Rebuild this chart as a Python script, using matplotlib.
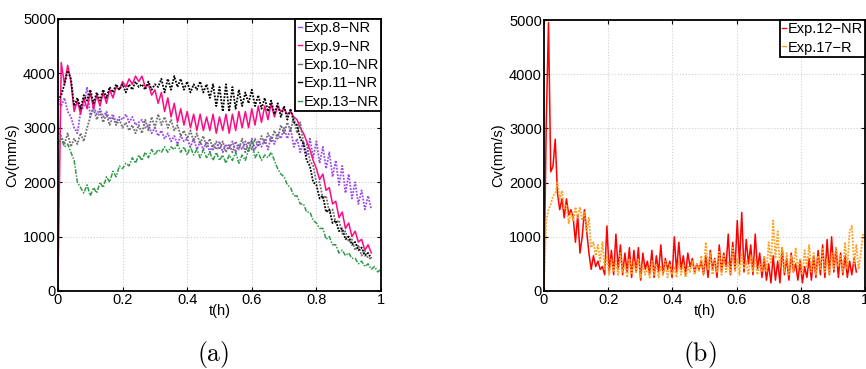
import numpy as np
import matplotlib
matplotlib.use("Agg")
import matplotlib.pyplot as plt

plt.rcParams['font.family'] = ['Liberation Sans', 'DejaVu Sans']
plt.rcParams['mathtext.fontset'] = 'cm'

# ---------------- data panel (a) : sampled every 0.01 h ----------------
dt_a = 0.01
exp8 = [3500, 3400, 3550, 3300, 3200, 3000, 2900, 3300, 3400, 3750,
        3200, 3400, 3250, 3350, 3200, 3300, 3150, 3250, 3100, 3200,
        3150, 3250, 3100, 3200, 3050, 3100, 3150, 3000, 3050, 2900,
        3000, 2850, 2950, 2800, 2900, 2750, 2850, 2700, 2850, 2750,
        2800, 2650, 2800, 2600, 2750, 2600, 2750, 2550, 2700, 2600,
        2750, 2550, 2700, 2600, 2750, 2550, 2700, 2600, 2750, 2550,
        2800, 2600, 2750, 2650, 2800, 2600, 2850, 2700, 2900, 2800,
        3000, 2800, 3000, 2650, 2800, 2550, 2750, 2500, 2800, 2450,
        2750, 2350, 2650, 2250, 2550, 2100, 2400, 1950, 2300, 1800,
        2150, 1700, 2000, 1600, 1850, 1500, 1750, 1500]
exp9 = [200, 4200, 3800, 4150, 3850, 3300, 3500, 3250, 3550, 3350,
        3650, 3350, 3600, 3400, 3650, 3450, 3700, 3550, 3750, 3700,
        3850, 3750, 3900, 3800, 3950, 3850, 3950, 3750, 3800, 3600,
        3700, 3450, 3650, 3300, 3550, 3200, 3450, 3100, 3350, 3050,
        3300, 3000, 3250, 2950, 3250, 2950, 3200, 2950, 3250, 2900,
        3200, 2950, 3250, 2900, 3250, 2950, 3300, 3000, 3300, 3000,
        3350, 3050, 3400, 3100, 3400, 3150, 3450, 3200, 3400, 3300,
        3350, 3250, 3300, 3200, 3150, 3000, 2900, 2750, 2600, 2400,
        2250, 2050, 2150, 1850, 1900, 1600, 1650, 1350, 1450, 1150,
        1250, 1000, 1100, 900, 950, 750, 850, 700]
exp10 = [2900, 2850, 2700, 2900, 2650, 2800, 2700, 2900, 2750, 3000,
         3200, 3350, 3150, 3300, 3100, 3250, 3050, 3200, 3050, 3150,
         3000, 3100, 2950, 3050, 2900, 3050, 2900, 3150, 2950, 3200,
         3000, 3250, 3050, 3200, 3000, 3150, 2950, 3050, 2850, 2950,
         2800, 2950, 2750, 2900, 2700, 2850, 2650, 2800, 2600, 2750,
         2600, 2750, 2550, 2700, 2550, 2750, 2600, 2800, 2550, 2750,
         2600, 2800, 2650, 2850, 2700, 2900, 2750, 2950, 2800, 3050,
         2900, 3100, 2950, 3200, 2900, 3100, 2700, 2700, 2400, 2300,
         2000, 2000, 1700, 1750, 1450, 1500, 1250, 1300, 1050, 1100,
         900, 950, 750, 850, 650, 750, 600, 600]
exp11 = [3500, 3600, 3800, 4050, 3900, 3400, 3550, 3350, 3600, 3500,
         3700, 3450, 3650, 3500, 3700, 3550, 3750, 3650, 3800, 3700,
         3800, 3650, 3800, 3700, 3850, 3750, 3800, 3700, 3850, 3700,
         3800, 3750, 3900, 3650, 3900, 3700, 3950, 3750, 3900, 3700,
         3850, 3650, 3800, 3700, 3850, 3650, 3800, 3550, 3800, 3400,
         3750, 3300, 3800, 3300, 3750, 3350, 3700, 3400, 3650, 3450,
         3700, 3400, 3600, 3350, 3550, 3300, 3500, 3250, 3450, 3200,
         3400, 3150, 3350, 3100, 3050, 2800, 2700, 2400, 2300, 2000,
         1950, 1700, 1750, 1450, 1500, 1250, 1300, 1100, 1150, 950,
         1000, 850, 900, 750, 800, 650, 700, 600]
exp13 = [2700, 2800, 2650, 2700, 2550, 2400, 2000, 1900, 1800, 1950,
         1750, 1900, 1800, 2000, 1900, 2100, 2000, 2200, 2100, 2300,
         2250, 2350, 2300, 2450, 2350, 2500, 2400, 2550, 2450, 2600,
         2500, 2600, 2550, 2650, 2550, 2650, 2600, 2700, 2550, 2650,
         2500, 2650, 2500, 2600, 2450, 2600, 2450, 2550, 2400, 2550,
         2400, 2500, 2350, 2500, 2400, 2550, 2350, 2500, 2400, 2600,
         2750, 2450, 2550, 2400, 2500, 2450, 2550, 2400, 2250, 2150,
         2100, 1950, 1900, 1750, 1750, 1600, 1600, 1450, 1450, 1300,
         1250, 1150, 1150, 950, 1000, 850, 850, 700, 750, 650,
         700, 600, 600, 500, 550, 450, 500, 400, 450, 350, 400]

# ---------------- data panel (b) : sampled every 0.007 h ----------------
dt_b = 0.007
exp12 = [100, 3100, 4950, 2200, 2300, 2800, 1800, 1500, 1700, 1350,
         1700, 1400, 1500, 1350, 900, 1400, 700, 1000, 1500, 1100,
         700, 400, 650, 450, 550, 400, 450, 300, 1200, 350,
         750, 300, 1050, 400, 850, 300, 700, 350, 800, 250,
         750, 350, 800, 200, 700, 400, 550, 300, 750, 250,
         650, 350, 850, 300, 600, 400, 550, 250, 1000, 350,
         900, 400, 650, 300, 700, 450, 600, 350, 500, 400,
         550, 300, 650, 250, 750, 400, 600, 250, 850, 350,
         700, 450, 1050, 300, 900, 400, 1300, 500, 1450, 350,
         950, 500, 850, 300, 1050, 400, 700, 250, 600, 200,
         500, 150, 650, 200, 550, 150, 800, 300, 600, 200,
         700, 350, 500, 200, 550, 150, 450, 250, 600, 200,
         650, 250, 750, 300, 850, 250, 950, 300, 1000, 350,
         800, 250, 700, 300, 650, 250, 550, 300, 600, 350]
exp17 = [100, 1300, 1500, 1600, 1750, 1800, 2000, 1700, 1850, 1500,
         1600, 1250, 1450, 1300, 1550, 1350, 1550, 1300, 1450, 1100,
         1350, 800, 900, 650, 850, 550, 900, 400, 650, 300,
         600, 350, 550, 300, 700, 350, 500, 250, 600, 300,
         550, 350, 600, 250, 500, 300, 450, 250, 550, 300,
         500, 250, 450, 300, 550, 250, 500, 300, 450, 250,
         550, 300, 500, 250, 450, 350, 550, 300, 500, 350,
         650, 300, 900, 400, 700, 300, 600, 350, 750, 300,
         650, 350, 550, 300, 800, 350, 600, 300, 700, 400,
         550, 300, 650, 350, 600, 300, 500, 350, 650, 350,
         900, 500, 1300, 600, 1100, 450, 800, 350, 700, 300,
         650, 350, 800, 400, 600, 300, 750, 450, 850, 350,
         700, 300, 650, 400, 800, 350, 600, 300, 700, 400,
         800, 450, 650, 350, 900, 400, 1100, 1200, 500, 850,
         400, 700, 1050]

labels_a = ['Exp.8\u2212NR', 'Exp.9\u2212NR', 'Exp.10\u2212NR', 'Exp.11\u2212NR', 'Exp.13\u2212NR']
labels_b = ['Exp.12\u2212NR', 'Exp.17\u2212R']
xticks = [0, 0.2, 0.4, 0.6, 0.8, 1]
xticklabels = ['0', '0.2', '0.4', '0.6', '0.8', '1']
yticks = [0, 1000, 2000, 3000, 4000, 5000]

fig = plt.figure(figsize=(8.66, 3.69), dpi=100)
ax_a = fig.add_axes([58/866, 1-291/369, 323/866, 272/369])
ax_b = fig.add_axes([544/866, 1-291/369, 321/866, 271/369])

dots = (0, (1, 0.8))
series_a = [(exp8, '#9a4cf0', dots, 1.3),
            (exp9, '#ff0a84', '-', 1.1),
            (exp10, '#707070', dots, 1.3),
            (exp11, '#000000', dots, 1.3),
            (exp13, '#2f9a48', (0, (3, 1, 1, 1)), 1.1)]
for (vals, c, ls, lw), lab in zip(series_a, labels_a):
    t = np.arange(len(vals)) * dt_a
    ax_a.plot(t, vals, color=c, ls=ls, lw=lw, label=lab)

series_b = [(exp12, '#ff0000', '-', 1.1),
            (exp17, '#ffa020', dots, 1.3)]
for (vals, c, ls, lw), lab in zip(series_b, labels_b):
    t = np.arange(len(vals)) * dt_b
    ax_b.plot(t, vals, color=c, ls=ls, lw=lw, label=lab)

for ax in (ax_a, ax_b):
    ax.set_xlim(0, 1)
    ax.set_ylim(0, 5000)
    ax.set_xticks(xticks)
    ax.set_xticklabels(xticklabels)
    ax.set_yticks(yticks)
    ax.grid(True, color='#d0d0d0', ls=':', lw=0.8)
    ax.tick_params(direction='in', length=3, width=0.8, labelsize=10.5,
                   top=True, right=True, pad=1.5)
    for s in ax.spines.values():
        s.set_linewidth(1.3)
    ax.set_xlabel('t(h)', fontsize=10.5, labelpad=-2)
    ax.set_ylabel('Cv(mm/s)', fontsize=10.5, labelpad=3)
    leg = ax.legend(loc='upper right', bbox_to_anchor=(1, 1), borderaxespad=0,
                    fontsize=10.5, handlelength=0.3, handletextpad=0.1,
                    borderpad=0.15, labelspacing=0.3, fancybox=False,
                    framealpha=1, edgecolor='black')
    leg.get_frame().set_linewidth(1.3)
    for h in leg.get_lines():
        h.set_linestyle('-')
        h.set_linewidth(1.0)

fig.text(213/866, 1-354/369, r'$\mathrm{(a)}$', fontsize=18.5, ha='center', va='center')
fig.text(700/866, 1-354/369, r'$\mathrm{(b)}$', fontsize=18.5, ha='center', va='center')

fig.savefig('out.png', dpi=100)
